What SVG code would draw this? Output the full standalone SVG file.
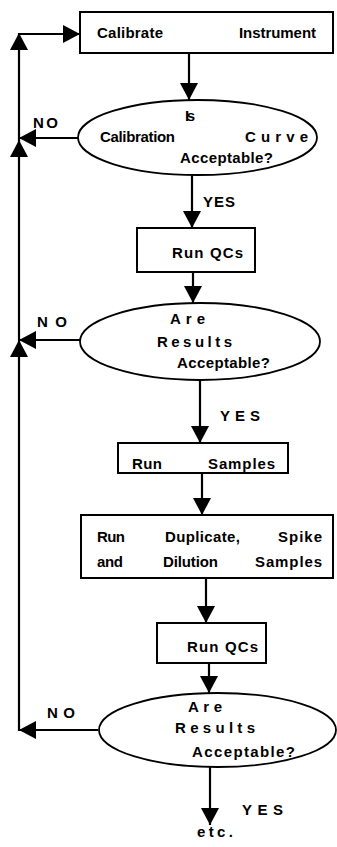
<svg xmlns="http://www.w3.org/2000/svg" width="337" height="847" viewBox="0 0 337 847">
<style>
.box{fill:#fff;stroke:#000;stroke-width:2}
.dec{fill:#fff;stroke:#000;stroke-width:1.8}
.t{font-family:"Liberation Sans",Arial,sans-serif;font-weight:bold;font-size:15px;fill:#000}
.c{fill:none;stroke:#000;stroke-width:2.2}
</style>
<defs>
<marker id="ah" viewBox="0 0 17 18" refX="17" refY="9" markerWidth="17" markerHeight="18" markerUnits="userSpaceOnUse" orient="auto">
<path d="M0,0 L17,9 L0,18 Z" fill="#000"/>
</marker>
</defs>
<rect width="337" height="847" fill="#fff"/>
<g id="connectors">
<line class="c" x1="189" y1="53" x2="189" y2="100" marker-end="url(#ah)"/>
<line class="c" x1="192" y1="175" x2="192" y2="228" marker-end="url(#ah)"/>
<line class="c" x1="193" y1="272" x2="193" y2="303" marker-end="url(#ah)"/>
<line class="c" x1="200" y1="380" x2="200" y2="443" marker-end="url(#ah)"/>
<line class="c" x1="202" y1="473" x2="202" y2="515" marker-end="url(#ah)"/>
<line class="c" x1="206" y1="578" x2="206" y2="623" marker-end="url(#ah)"/>
<line class="c" x1="209" y1="663" x2="209" y2="693" marker-end="url(#ah)"/>
<line class="c" x1="210" y1="767" x2="210" y2="825" marker-end="url(#ah)"/>
<line class="c" x1="78" y1="138" x2="19" y2="138" marker-end="url(#ah)"/>
<line class="c" x1="80" y1="340" x2="19" y2="340" marker-end="url(#ah)"/>
<line class="c" x1="98" y1="730" x2="19" y2="730" marker-end="url(#ah)"/>
<line class="c" x1="19" y1="731" x2="19" y2="340" marker-end="url(#ah)"/>
<line class="c" x1="19" y1="340" x2="19" y2="140" marker-end="url(#ah)"/>
<line class="c" x1="19" y1="140" x2="19" y2="33" marker-end="url(#ah)"/>
<line class="c" x1="18" y1="34" x2="80" y2="34" marker-end="url(#ah)"/>
<text class="t" x="33" y="128" textLength="25" lengthAdjust="spacing">N O</text>
<text class="t" x="203" y="207" textLength="32" lengthAdjust="spacing">YES</text>
<text class="t" x="37" y="327" textLength="30" lengthAdjust="spacing">N O</text>
<text class="t" x="220" y="421" textLength="40" lengthAdjust="spacing">YES</text>
<text class="t" x="47" y="718" textLength="28" lengthAdjust="spacing">N O</text>
<text class="t" x="242" y="815" textLength="41" lengthAdjust="spacing">YES</text>
</g>
<g id="calibrate">
<rect class="box" x="80" y="12" width="253" height="41"/>
<text class="t" x="97" y="38" textLength="66" lengthAdjust="spacing">Calibrate</text>
<text class="t" x="239" y="38" textLength="77" lengthAdjust="spacing">Instrument</text>
</g>
<g id="curve-ok">
<ellipse class="dec" cx="197.5" cy="137.5" rx="119.5" ry="37.5"/>
<text class="t" x="185" y="121" textLength="10" lengthAdjust="spacing">Is</text>
<text class="t" x="100" y="142" textLength="75" lengthAdjust="spacing">Calibration</text>
<text class="t" x="245" y="142" textLength="63" lengthAdjust="spacing">Curve</text>
<text class="t" x="180" y="163" textLength="93" lengthAdjust="spacing">Acceptable?</text>
</g>
<g id="qc1">
<rect class="box" x="137" y="228" width="118" height="44"/>
<text class="t" x="172" y="258" textLength="71" lengthAdjust="spacing">Run QCs</text>
</g>
<g id="results-ok-1">
<ellipse class="dec" cx="200" cy="341.5" rx="120" ry="38.5"/>
<text class="t" x="170" y="324" textLength="35" lengthAdjust="spacing">Are</text>
<text class="t" x="157" y="347" textLength="75" lengthAdjust="spacing">Results</text>
<text class="t" x="177" y="368" textLength="93" lengthAdjust="spacing">Acceptable?</text>
</g>
<g id="run-samples">
<rect class="box" x="118" y="443" width="170" height="30"/>
<text class="t" x="132" y="469" textLength="30" lengthAdjust="spacing">Run</text>
<text class="t" x="208" y="469" textLength="67" lengthAdjust="spacing">Samples</text>
</g>
<g id="run-dup">
<rect class="box" x="81" y="515" width="252" height="63"/>
<text class="t" x="97" y="542" textLength="28" lengthAdjust="spacing">Run</text>
<text class="t" x="165" y="542" textLength="75" lengthAdjust="spacing">Duplicate,</text>
<text class="t" x="278" y="542" textLength="44" lengthAdjust="spacing">Spike</text>
<text class="t" x="97" y="567" textLength="26" lengthAdjust="spacing">and</text>
<text class="t" x="163" y="567" textLength="55" lengthAdjust="spacing">Dilution</text>
<text class="t" x="255" y="567" textLength="67" lengthAdjust="spacing">Samples</text>
</g>
<g id="qc2">
<rect class="box" x="157" y="623" width="109" height="40"/>
<text class="t" x="187" y="652" textLength="71" lengthAdjust="spacing">Run QCs</text>
</g>
<g id="results-ok-2">
<ellipse class="dec" cx="217.5" cy="730" rx="118.5" ry="37"/>
<text class="t" x="188" y="712" textLength="34" lengthAdjust="spacing">Are</text>
<text class="t" x="175" y="733" textLength="80" lengthAdjust="spacing">Results</text>
<text class="t" x="192" y="757" textLength="103" lengthAdjust="spacing">Acceptable?</text>
</g>
<g id="etc">
<text class="t" x="197" y="837" textLength="36" lengthAdjust="spacing">etc.</text>
</g>
</svg>
